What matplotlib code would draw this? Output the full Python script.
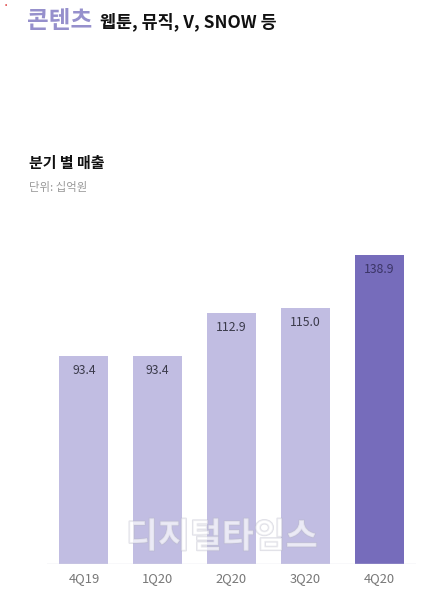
import matplotlib
matplotlib.use("Agg")
import matplotlib.pyplot as plt
import matplotlib.patheffects as pe

plt.rcParams['font.family'] = ['Noto Sans CJK KR', 'DejaVu Sans']

quarters = ["4Q19", "1Q20", "2Q20", "3Q20", "4Q20"]
revenue = [93.4, 93.4, 112.9, 115.0, 138.9]
value_labels = ["93.4", "93.4", "112.9", "115.0", "138.9"]

W, H = 444, 594
fig = plt.figure(figsize=(W / 100, H / 100), dpi=100)
fig.patch.set_facecolor("white")

def fx(px):
    return px / W

def fy(py):
    return 1 - py / H

# plotting area: baseline at y=564px, top at 240px
left, right, top, bottom = 47, 416, 240, 564
ax = fig.add_axes([fx(left), fy(bottom), fx(right - left), (bottom - top) / H])
ax.set_xlim(-0.5, 4.5)
ax.set_ylim(0, (bottom - top) / 2.223)
ax.axis("off")

light = "#c1bde2"
dark = "#766cbb"
colors = [light, light, light, light, dark]
xs = list(range(len(quarters)))
ax.bar(xs, revenue, width=0.665, color=colors, zorder=2)
ax.axhline(0, color="#dcdce6", lw=1.0, zorder=3)

for x, v, lab, c in zip(xs, revenue, value_labels, colors):
    ax.annotate(lab, (x, v), xytext=(0, -14), textcoords="offset pixels",
                ha="center", va="center", fontsize=8.8,
                color="#3a3a4a" if c == light else "#3b3566", zorder=4)

for x, q in zip(xs, quarters):
    ax.annotate(q, (x, 0), xytext=(0, -15), textcoords="offset pixels",
                ha="center", va="center", fontsize=9.3, color="#777777",
                annotation_clip=False)

# headings
fig.text(fx(27), fy(21), "콘텐츠", fontsize=17, fontweight="bold",
         color="#9690cc", ha="left", va="center")
fig.text(fx(100), fy(22), "웹툰, 뮤직, V, SNOW 등", fontsize=12.5,
         fontweight="bold", color="#111111", ha="left", va="center")
fig.text(fx(29), fy(163), "분기 별 매출", fontsize=10.8, fontweight="bold",
         color="#111111", ha="left", va="center")
fig.text(fx(29), fy(187), "단위: 십억원", fontsize=8.2, color="#999999",
         ha="left", va="center")

# outlined watermark
fig.text(fx(222), fy(537), "디지털타임스", fontsize=25, fontweight="bold",
         color="white", alpha=0.45, ha="center", va="center",
         path_effects=[pe.withStroke(linewidth=1.2, foreground="#b8b8c8")])

fig.text(fx(6), fy(5), "•", fontsize=5, color="#dd3333", ha="center", va="center")

fig.savefig("out.png", dpi=100, facecolor="white")
